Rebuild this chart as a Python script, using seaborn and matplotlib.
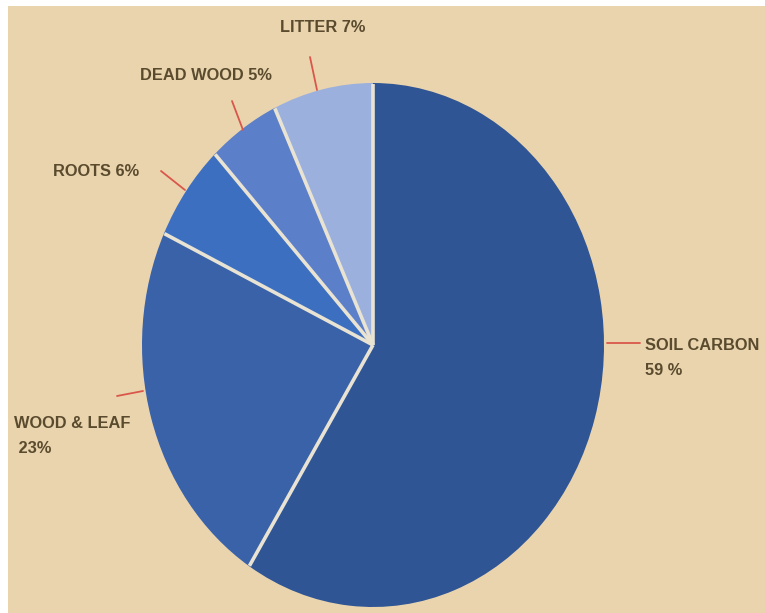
import matplotlib
matplotlib.use("Agg")
import matplotlib.pyplot as plt
import seaborn as sns
import numpy as np
from matplotlib.patches import Rectangle

# ---- data ----
categories = ["SOIL CARBON", "WOOD & LEAF", "ROOTS", "DEAD WOOD", "LITTER"]
values = [59, 23, 6, 5, 7]
label_texts = ["SOIL CARBON\n59 %", "WOOD & LEAF\n 23%", "ROOTS 6%", "DEAD WOOD 5%", "LITTER 7%"]
colors = ["#2f5595", "#3962a9", "#3d6fc1", "#5c7fc9", "#9cb0dd"]

sns.set_theme(style="white")
plt.rcParams["font.family"] = ["Liberation Sans", "DejaVu Sans"]

W, H = 765, 613
fig = plt.figure(figsize=(W / 100, H / 100), dpi=100, facecolor="white")
fig.patches.append(Rectangle((8 / W, 0), 1 - 8 / W, 1 - 6 / H, transform=fig.transFigure,
                             facecolor="#ead4ae", edgecolor="none", zorder=-10))

cx, cy, rx, ry = 373, 345, 231, 262
ax = fig.add_axes([(cx - rx) / W, (H - cy - ry) / H, 2 * rx / W, 2 * ry / H])
ax.set_facecolor("none")
ax.set_zorder(5)

startangle = 90
ax.pie(values, colors=colors, startangle=startangle, counterclock=False, radius=1,
       wedgeprops=dict(edgecolor="none", linewidth=0))
ax.set_aspect("auto")
ax.set_xlim(-1, 1)
ax.set_ylim(-1, 1)
ax.axis("off")

# separator lines between wedges (computed from the data)
frac = np.cumsum(values) / np.sum(values)
bounds = np.concatenate([[0.0], frac[:-1]])
for f in bounds:
    ang = np.deg2rad(startangle - 360 * f)
    ax.plot([0, 0.998 * np.cos(ang)], [0, 0.998 * np.sin(ang)], color="#e9e3d3",
            lw=2.6, solid_capstyle="butt", zorder=3)


def d(px, py):
    return ((px - cx) / rx, (cy - py) / ry)


# layout of labels (pixel positions)
line_pts = [((607, 343), (640, 343)),
            ((117, 396), (143, 391)),
            ((161, 171), (185, 190)),
            ((232, 101), (243, 130)),
            ((310, 57), (317, 90))]
text_pts = [(645, 358), (14, 436), (53, 171), (140, 76), (280, 28)]

txt_color = "#5a4b2e"
line_color = "#d9574a"
for lbl, (p0, p1), (tx, ty) in zip(label_texts, line_pts, text_pts):
    x0, y0 = d(*p0)
    x1, y1 = d(*p1)
    ax.plot([x0, x1], [y0, y1], color=line_color, lw=1.3, clip_on=False)
    tx_, ty_ = d(tx, ty)
    ax.text(tx_, ty_, lbl, ha="left", va="center", fontsize=11.8, fontweight="bold",
            color=txt_color, linespacing=1.8, clip_on=False)

fig.savefig("out.png", dpi=100, facecolor="white")
